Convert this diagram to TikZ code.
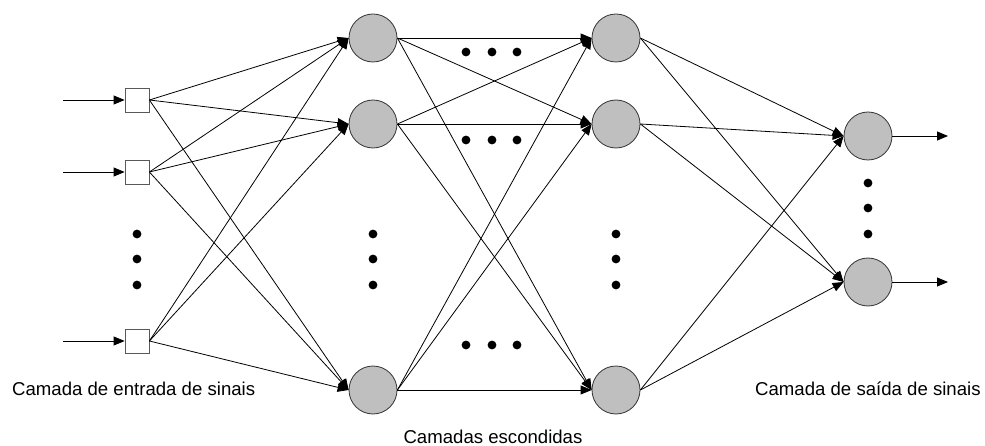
\documentclass[tikz,border=0pt]{standalone}
\usepackage{fontspec}
\setmainfont{Liberation Sans}
\usetikzlibrary{arrows.meta}
\begin{document}
\begin{tikzpicture}[x=1pt,y=-1pt,
  neuron/.style={circle,draw=black!80,fill=black!25,line width=0.8pt,minimum size=48pt,inner sep=0pt},
  inbox/.style={rectangle,draw=black!65,fill=white,line width=0.8pt,minimum size=24pt,inner sep=0pt},
  link/.style={line width=0.8pt,-{Triangle[length=11pt,width=9pt]}},
  capt/.style={font=\fontsize{18.6}{22}\selectfont,inner sep=0pt}]
\useasboundingbox (0,0) rectangle (985,446);

% input layer
\node[inbox] (i1) at (137,100) {};
\node[inbox] (i2) at (137,172) {};
\node[inbox] (i3) at (137,341) {};
% first hidden layer
\node[neuron] (a1) at (373,38) {};
\node[neuron] (a2) at (373,124) {};
\node[neuron] (a3) at (373,390) {};
% second hidden layer
\node[neuron] (b1) at (616,38) {};
\node[neuron] (b2) at (616,124) {};
\node[neuron] (b3) at (616,390) {};
% output layer
\node[neuron] (o1) at (868,136) {};
\node[neuron] (o2) at (868,282) {};

% external inputs and outputs
\coordinate (s1) at (63,100);
\coordinate (s2) at (63,172);
\coordinate (s3) at (63,341);
\coordinate (t1) at (948,136);
\coordinate (t2) at (948,282);
\foreach \k in {1,2,3} \draw[link] (s\k) -- (i\k.west);
\foreach \k in {1,2} \draw[link] (o\k.east) -- (t\k);

% full connections between layers
\foreach \p in {1,2,3} \foreach \q in {1,2,3} \draw[link] (i\p.east) -- (a\q.west);
\foreach \p in {1,2,3} \foreach \q in {1,2,3} \draw[link] (a\p.east) -- (b\q.west);
\foreach \p in {1,2,3} \foreach \q in {1,2} \draw[link] (b\p.east) -- (o\q.west);

% ellipsis dots
\foreach \x in {137,373,616} \foreach \y in {234,259,285} \fill (\x,\y) circle[radius=4.4];
\foreach \y in {183,208,234} \fill (868,\y) circle[radius=4.4];
\foreach \y in {52,140,345} \foreach \x in {466,492,517} \fill (\x,\y) circle[radius=4.4];

% captions
\node[capt,anchor=west] (cin) at (12,389) {Camada de entrada de sinais};
\node[capt,anchor=west] (cout) at (755,389) {Camada de saída de sinais};
\node[capt] (chid) at (493,437) {Camadas escondidas};
\end{tikzpicture}
\end{document}
